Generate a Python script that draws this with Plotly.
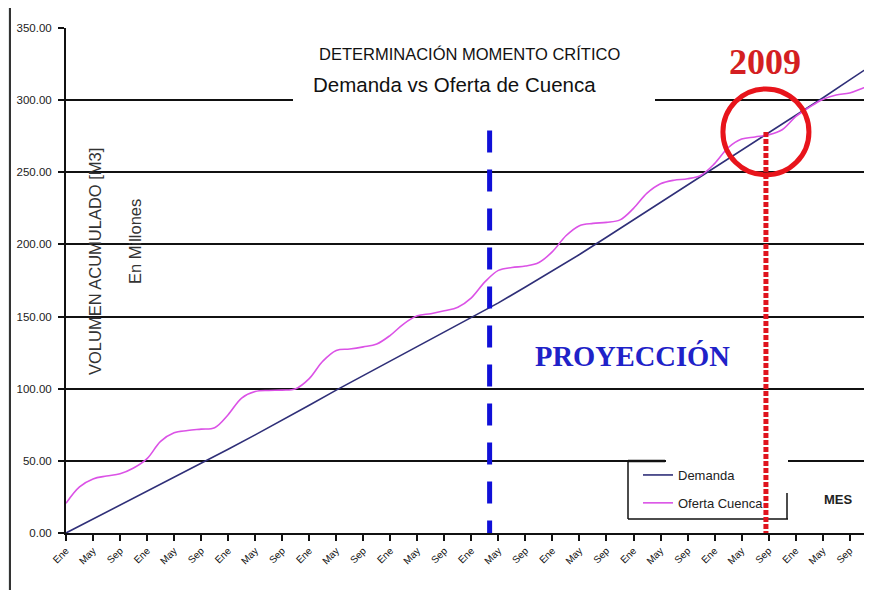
import plotly.graph_objects as go

# ---------------- data ----------------
# month index (0 = Ene of first year), ticks every 4 months
TICK_MONTHS = [0, 4, 8, 12, 16, 20, 24, 28, 32, 36, 40, 44, 48, 52, 56,
               60, 64, 68, 72, 76, 80, 84, 88, 92, 96, 100, 104, 108, 112, 116]
TICK_LABELS = ["Ene", "May", "Sep", "Ene", "May", "Sep", "Ene", "May", "Sep", "Ene",
               "May", "Sep", "Ene", "May", "Sep", "Ene", "May", "Sep", "Ene", "May",
               "Sep", "Ene", "May", "Sep", "Ene", "May", "Sep", "Ene", "May", "Sep"]

demanda_mes = [0, 4, 8, 12, 16, 20, 24, 28, 32, 36, 40, 44, 48, 52, 56, 60,
               64, 68, 72, 76, 80, 84, 88, 92, 96, 100, 104, 108, 112, 116, 120]
demanda_val = [0, 9.6, 19.2, 28.8, 38.4, 48, 58, 68, 78, 88.5, 99, 109, 119, 129, 139, 149,
               159.5, 170.5, 181.5, 193, 205, 217, 229, 241, 253, 265, 277, 289, 301.5, 314, 326.5]

oferta_mes = [0, 2, 4, 6, 8, 10, 12, 14, 16, 18, 20, 22, 24, 26, 28, 30, 32, 34, 36, 38,
              40, 42, 44, 46, 48, 50, 52, 54, 56, 58, 60, 62, 64, 66, 68, 70, 72, 74, 76, 78,
              80, 82, 84, 86, 88, 90, 92, 94, 96, 98, 100, 102, 104, 106, 108, 110, 112, 114,
              116, 118, 120]
oferta_val = [20.6, 32, 37.5, 39.5, 41, 45, 51.5, 63.5, 69.5, 71, 72, 73, 82, 93.5, 98, 98.8,
              99, 100, 107, 119, 126.5, 127.5, 129, 131, 137, 145, 150.5, 152, 154, 156.5,
              163, 174, 182, 184, 185, 187.5, 195, 206, 213, 214.6, 215.3, 217, 225, 235.5,
              242, 244.5, 245.5, 248, 256, 267, 273, 274.5, 276, 279.5, 288.5, 295, 300.5,
              303.5, 305, 308.5, 312]

Y_TICKS = [0, 50, 100, 150, 200, 250, 300, 350]

PROYECCION_MES = 62.7      # start of projection (blue dashed line)
PROYECCION_TOP = 279
CRITICO_MES = 103.6        # critical moment (red dotted line / circle)
CRITICO_VAL = 278

# ---------------- figure ----------------
OFF = 8                     # page body margin
W, H = 872 - OFF, 590 - OFF
ML, MR, MT, MB = 58, 0, 20, 57
PW, PH = W - ML - MR, H - MT - MB


def px(xs):
    """screen x pixel -> paper"""
    return (xs - OFF - ML) / PW


def py(ys):
    """screen y pixel -> paper"""
    return (H - MB - (ys - OFF)) / PH


fig = go.Figure()
fig.add_trace(go.Scatter(x=demanda_mes, y=demanda_val, mode="lines", name="Demanda",
                         legendgroup="d", line=dict(color="#2f2f78", width=1.6)))
fig.add_trace(go.Scatter(x=oferta_mes, y=oferta_val, mode="lines", name="Oferta Cuenca",
                         legendgroup="o",
                         line=dict(color="#db52e6", width=1.6, shape="spline", smoothing=1.0)))

shapes = []
# left frame
shapes.append(dict(type="rect", xref="paper", yref="paper", x0=px(8), x1=px(9), y0=py(590), y1=py(8),
                   fillcolor="#e4e8e9", line=dict(width=0), layer="below"))
shapes.append(dict(type="line", xref="paper", yref="paper", x0=px(10), x1=px(10), y0=py(590), y1=py(8),
                   line=dict(color="#333333", width=2)))
# white box behind title (hides 300 gridline)
shapes.append(dict(type="rect", xref="paper", yref="paper", x0=px(293), x1=px(655), y0=py(108), y1=py(38),
                   fillcolor="white", line=dict(width=0), layer="above"))
# white box behind legend
shapes.append(dict(type="rect", xref="paper", yref="paper", x0=px(629), x1=px(787), y0=py(518), y1=py(463),
                   fillcolor="white", line=dict(width=0), layer="above"))
shapes.append(dict(type="rect", xref="paper", yref="paper", x0=px(666), x1=px(788), y0=py(468), y1=py(455),
                   fillcolor="white", line=dict(width=0), layer="above"))
# legend partial frame
shapes.append(dict(type="line", xref="paper", yref="paper", x0=px(628), x1=px(628), y0=py(519), y1=py(461),
                   line=dict(color="#111111", width=1.5), layer="above"))
shapes.append(dict(type="line", xref="paper", yref="paper", x0=px(628), x1=px(788), y0=py(519), y1=py(519),
                   line=dict(color="#111111", width=1.5), layer="above"))
shapes.append(dict(type="line", xref="paper", yref="paper", x0=px(787), x1=px(787), y0=py(519), y1=py(493),
                   line=dict(color="#111111", width=1.5), layer="above"))
shapes.append(dict(type="line", xref="paper", yref="paper", x0=px(628), x1=px(665), y0=py(461), y1=py(461),
                   line=dict(color="#111111", width=2.5), layer="above"))
# blue dashed projection line
shapes.append(dict(type="line", xref="x", yref="y", x0=PROYECCION_MES, x1=PROYECCION_MES,
                   y0=PROYECCION_TOP, y1=0, line=dict(color="#1010d8", width=5, dash="22px,17px"),
                   layer="above"))
# red dotted critical line
shapes.append(dict(type="line", xref="x", yref="y", x0=CRITICO_MES, x1=CRITICO_MES,
                   y0=CRITICO_VAL, y1=0, line=dict(color="#e0141e", width=5, dash="5px,2px"),
                   layer="above"))
# red circle
shapes.append(dict(type="circle", xref="x", yref="y", xsizemode="pixel", ysizemode="pixel",
                   xanchor=CRITICO_MES, yanchor=CRITICO_VAL, x0=-43, x1=43, y0=-43, y1=43,
                   line=dict(color="#e8141b", width=5), layer="above"))

annotations = [
    dict(text="DETERMINACIÓN MOMENTO CRÍTICO", x=px(470), y=py(54), xref="paper", yref="paper",
         showarrow=False, xanchor="center", yanchor="middle",
         font=dict(family="Liberation Sans, Arial", size=16.5, color="#111111")),
    dict(text="Demanda vs Oferta de Cuenca", x=px(454), y=py(84), xref="paper", yref="paper",
         showarrow=False, xanchor="center", yanchor="middle",
         font=dict(family="Liberation Sans, Arial", size=20.5, color="#111111")),
    dict(text="VOLUMEN ACUMULADO [M3]", x=px(95), y=py(262), xref="paper", yref="paper",
         showarrow=False, xanchor="center", yanchor="middle", textangle=-90,
         font=dict(family="Liberation Sans, Arial", size=16.5, color="#333333")),
    dict(text="En Millones", x=px(135), y=py(242), xref="paper", yref="paper",
         showarrow=False, xanchor="center", yanchor="middle", textangle=-90,
         font=dict(family="Liberation Sans, Arial", size=16.5, color="#333333")),
    dict(text="<b>PROYECCIÓN</b>", x=px(632), y=py(356), xref="paper", yref="paper",
         showarrow=False, xanchor="center", yanchor="middle",
         font=dict(family="Liberation Serif, Times New Roman", size=28.5, color="#1f22c8")),
    dict(text="<b>2009</b>", x=px(765), y=py(62), xref="paper", yref="paper",
         showarrow=False, xanchor="center", yanchor="middle",
         font=dict(family="Liberation Serif, Times New Roman", size=36, color="#d41f22")),
    dict(text="<b>MES</b>", x=px(838), y=py(500), xref="paper", yref="paper",
         showarrow=False, xanchor="center", yanchor="middle",
         font=dict(family="Liberation Sans, Arial", size=13, color="#222222")),
]

fig.update_layout(
    width=W, height=H,
    margin=dict(l=ML, r=MR, t=MT, b=MB, pad=0),
    paper_bgcolor="white", plot_bgcolor="white",
    showlegend=True,
    legend=dict(x=px(638), y=py(460), xanchor="left", yanchor="top",
                bgcolor="rgba(0,0,0,0)", borderwidth=0, tracegroupgap=8,
                font=dict(family="Liberation Sans, Arial", size=13, color="#222222"),
                itemwidth=30),
    shapes=shapes,
    annotations=annotations,
    xaxis=dict(range=[0, 119.3], tickmode="array", tickvals=TICK_MONTHS, ticktext=TICK_LABELS,
               tickangle=-45, ticks="outside", ticklen=6, tickwidth=2, tickcolor="#111111",
               showline=True, linecolor="#111111", linewidth=2, showgrid=False, zeroline=False,
               tickfont=dict(family="Liberation Sans, Arial", size=10, color="#111111")),
    yaxis=dict(range=[0, 350], tickmode="array", tickvals=Y_TICKS, tickformat=".2f",
               ticks="outside", ticklen=6, tickwidth=2, tickcolor="#111111",
               showline=True, linecolor="#111111", linewidth=2, ticklabelstandoff=4,
               showgrid=True, gridcolor="#111111", gridwidth=1.5, zeroline=False,
               tickfont=dict(family="Liberation Sans, Arial", size=11.5, color="#222222")),
)

fig.write_html("out.html")
